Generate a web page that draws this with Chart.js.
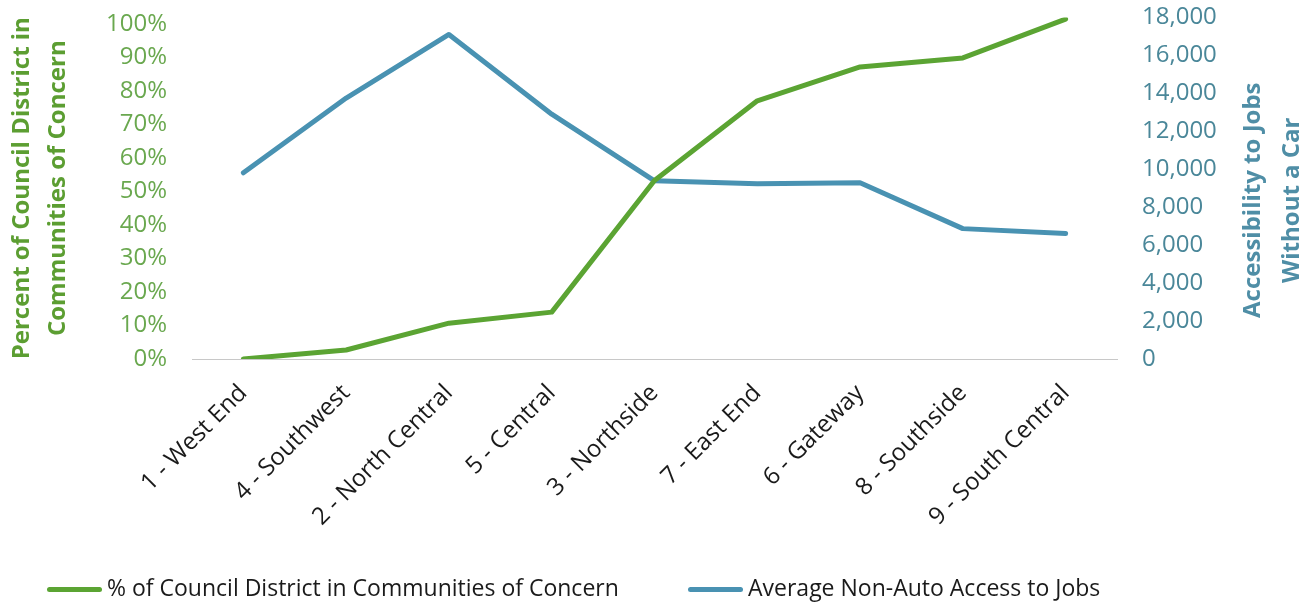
<!DOCTYPE html>
<html>
<head>
<meta charset="utf-8">
<script src="https://cdn.jsdelivr.net/npm/chart.js@4.4.0/dist/chart.umd.min.js"></script>
<style>
    html, body { margin: 0; padding: 0; background: #fff; }
    #wrap { position: relative; width: 1309px; height: 603px; }
    #legend { position: absolute; left: 0; top: 572px; width: 1309px; height: 30px;
              font-family: "Open Sans", sans-serif; font-size: 23px; color: #1a1a1a; }
    .item { position: absolute; top: 0; white-space: nowrap; line-height: 30px; }
    .swatch { display: inline-block; width: 55px; height: 5px; border-radius: 3px;
              vertical-align: middle; margin-right: 5px; }
</style>
</head>
<body>
<div id="wrap">
    <canvas id="accessChart" width="1309" height="603"></canvas>
    <div id="legend"></div>
</div>
<script>
const districts = ['1 - West End', '4 - Southwest', '2 - North Central', '5 - Central', '3 - Northside',
                   '7 - East End', '6 - Gateway', '8 - Southside', '9 - South Central'];
const pctConcern = [0, 2.7, 10.7, 14.0, 53.3, 77.1, 87.2, 89.9, 101.5];   // % of district
const jobAccess = [9810, 13750, 17100, 12900, 9390, 9230, 9290, 6870, 6610];
const pctTicks = [0, 10, 20, 30, 40, 50, 60, 70, 80, 90, 100];
const seriesNames = ['% of Council District in Communities of Concern', 'Average Non-Auto Access to Jobs'];
const leftTitle = ['Percent of Council District in', 'Communities of Concern'];
const rightTitle = ['Accessibility to Jobs', 'Without a Car'];

const GREEN = '#5ba433';
const BLUE = '#4992b2';

// chart.js turns right-hand titles the other way, so this one is drawn by hand
const rightTitlePlugin = {
    id: 'rightTitle',
    afterDraw(chart) {
        const scale = chart.scales.yJobs;
        const area = chart.chartArea;
        const c = chart.ctx;
        const cy = (area.top + area.bottom) / 2 + 12;
        c.save();
        c.font = 'bold 24px "Open Sans", sans-serif';
        c.fillStyle = '#4f8ea6';
        c.textAlign = 'center';
        c.textBaseline = 'middle';
        rightTitle.forEach((line, i) => {
            c.save();
            c.translate(scale.right - 56 + i * 39, cy);
            c.rotate(-Math.PI / 2);
            c.fillText(line, 0, 0);
            c.restore();
        });
        c.restore();
    }
};

document.addEventListener('DOMContentLoaded', () => {
    const ctx = document.getElementById('accessChart').getContext('2d');
    Chart.defaults.font.family = '"Open Sans", sans-serif';

    const chart = new Chart(ctx, {
        type: 'line',
        data: {
            labels: districts,
            datasets: [
                {
                    label: seriesNames[0],
                    data: pctConcern,
                    yAxisID: 'yPct',
                    borderColor: GREEN,
                    backgroundColor: GREEN,
                    borderWidth: 5,
                    pointRadius: 0,
                    borderCapStyle: 'round',
                    borderJoinStyle: 'round',
                    tension: 0
                },
                {
                    label: seriesNames[1],
                    data: jobAccess,
                    yAxisID: 'yJobs',
                    borderColor: BLUE,
                    backgroundColor: BLUE,
                    borderWidth: 5,
                    pointRadius: 0,
                    borderCapStyle: 'round',
                    borderJoinStyle: 'round',
                    tension: 0
                }
            ]
        },
        options: {
            responsive: false,
            animation: false,
            layout: { padding: { top: 0, left: 0, right: 0, bottom: 0 } },
            plugins: {
                legend: { display: false },
                tooltip: { enabled: false }
            },
            scales: {
                x: {
                    offset: true,
                    grid: { display: false },
                    border: { display: true, color: '#c8c8c8', width: 1 },
                    ticks: {
                        color: '#1a1a1a',
                        font: { size: 24 },
                        minRotation: 45,
                        maxRotation: 45,
                        padding: 12
                    },
                    afterFit: (scale) => { scale.height = 244; }
                },
                yPct: {
                    position: 'left',
                    min: 0,
                    max: 102,
                    grid: { display: false, tickLength: 22 },
                    border: { display: false },
                    ticks: {
                        color: '#6aa84f',
                        font: { size: 24 },
                        padding: 3,
                        callback: (v) => v + '%'
                    },
                    afterBuildTicks: (scale) => {
                        scale.ticks = pctTicks.map(v => ({ value: v }));
                    },
                    title: {
                        display: true,
                        text: leftTitle,
                        color: '#5c9e32',
                        font: { size: 24, weight: 'bold', lineHeight: 1.5 },
                        padding: { top: 4, bottom: 0 }
                    },
                    afterFit: (scale) => { scale.width = 192; }
                },
                yJobs: {
                    position: 'right',
                    min: 0,
                    max: 18000,
                    grid: { display: false, tickLength: 22 },
                    border: { display: false },
                    ticks: {
                        stepSize: 2000,
                        color: '#4a8799',
                        font: { size: 24 },
                        padding: 3,
                        callback: (v) => v.toLocaleString('en-US')
                    },
                    afterFit: (scale) => { scale.width = 192; }
                }
            }
        },
        plugins: [rightTitlePlugin]
    });

    // legend below the chart, built from the datasets
    const legend = document.getElementById('legend');
    const legendLeft = [47, 688];
    chart.data.datasets.forEach((ds, i) => {
        const item = document.createElement('div');
        item.className = 'item';
        item.style.left = legendLeft[i] + 'px';
        const sw = document.createElement('span');
        sw.className = 'swatch';
        sw.style.background = ds.borderColor;
        item.appendChild(sw);
        item.appendChild(document.createTextNode(ds.label));
        legend.appendChild(item);
    });
});
</script>
</body>
</html>
